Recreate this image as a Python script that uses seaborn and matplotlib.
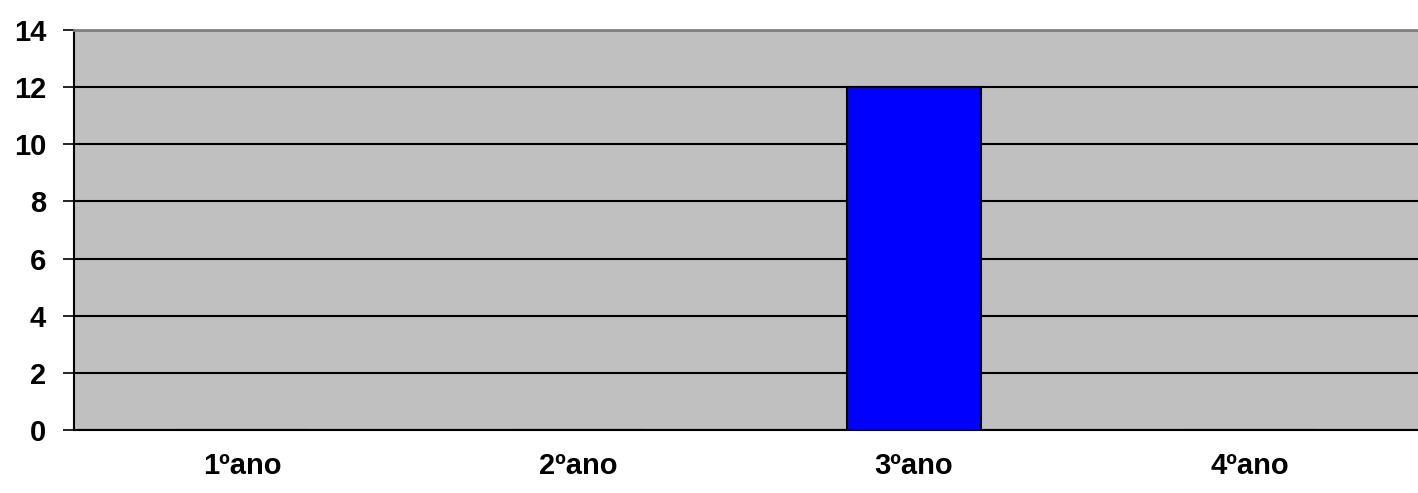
import matplotlib
matplotlib.use("Agg")
import matplotlib.pyplot as plt
import numpy as np
import pandas as pd
import seaborn as sns

# data
categories = ["1ºano", "2ºano", "3ºano", "4ºano"]
values = [0, 0, 12, 0]
y_ticks = [0, 2, 4, 6, 8, 10, 12, 14]

df = pd.DataFrame({"ano": categories, "valor": values})

sns.set_style("white")
plt.rcParams['font.family'] = ['Liberation Sans', 'DejaVu Sans']

fig = plt.figure(figsize=(14.18, 4.93), dpi=100)
ax = fig.add_axes([74 / 1418, 1 - 430 / 493, 1 - 74 / 1418, 400 / 493])
ax.set_facecolor("#c0c0c0")

sns.barplot(data=df, x="ano", y="valor", color="#0000ff", width=0.4,
            edgecolor="black", linewidth=1.5, saturation=1, ax=ax, zorder=3)

ax.set_xlim(-0.5, 3.5)
ax.set_ylim(0, 14)
ax.set_yticks(y_ticks)
ax.set_yticklabels([str(t) for t in y_ticks], fontsize=21, fontweight="bold", color="black")
ax.set_xticks(range(len(categories)))
ax.set_xticklabels(categories, fontsize=21, fontweight="bold", color="black")
ax.set_xticks(np.arange(-0.5, 3.6, 1), minor=True)
ax.tick_params(axis="x", which="major", length=0, pad=16)
ax.tick_params(axis="x", which="minor", length=8, width=1.2, color="black", direction="out")
ax.tick_params(axis="y", length=8, width=1.2, color="black", direction="out", pad=12, left=True)

ax.yaxis.grid(True, color="black", linewidth=1.5, zorder=1)
ax.set_axisbelow(True)

ax.set_xlabel("")
ax.set_ylabel("")
for side in ["left", "bottom"]:
    ax.spines[side].set_color("black")
    ax.spines[side].set_linewidth(1.5)
ax.spines["top"].set_color("#808080")
ax.spines["top"].set_linewidth(2)
ax.spines["right"].set_visible(False)

fig.savefig("out.png", dpi=100)
